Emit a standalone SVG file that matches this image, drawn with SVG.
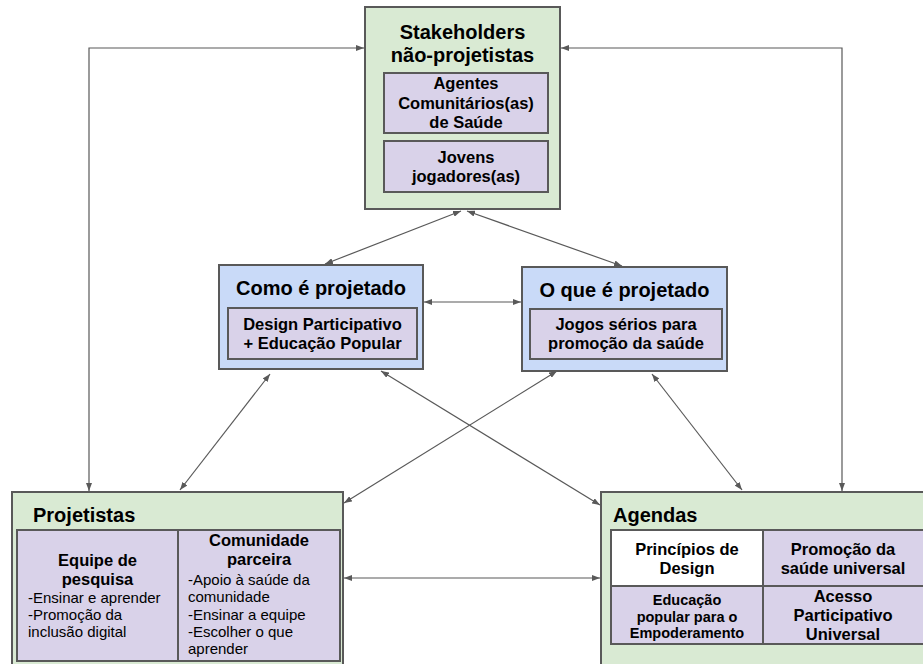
<svg xmlns="http://www.w3.org/2000/svg" width="923" height="664" viewBox="0 0 923 664">
<defs>
<marker id="ah" viewBox="0 0 8 6" refX="8" refY="3" markerWidth="8" markerHeight="6" markerUnits="userSpaceOnUse" orient="auto-start-reverse">
<path d="M0,0 L8,3 L0,6 z" fill="#595959"/>
</marker>
<style>
.g{fill:#d9ead3;stroke:#595959;stroke-width:2}
.b{fill:#c9daf8;stroke:#595959;stroke-width:2}
.p{fill:#d9d2e9;stroke:#595959;stroke-width:2}
.w{fill:#ffffff;stroke:#595959;stroke-width:2}
text{font-family:"Liberation Sans",Arial,sans-serif;fill:#000}
.t{font-size:20px;font-weight:bold}
.s{font-size:16.5px;font-weight:bold;text-anchor:middle}
.s2{font-size:14.5px;font-weight:bold;text-anchor:middle}
.n{font-size:15px}
.c{text-anchor:middle}
.ln{fill:none;stroke:#595959;stroke-width:1.2;marker-start:url(#ah);marker-end:url(#ah)}
</style>
</defs>
<g id="connectors">
<polyline class="ln" points="89,491 89,48 364,48"/>
<polyline class="ln" points="842,491 842,48 561,48"/>
<line class="ln" x1="461" y1="211" x2="325" y2="264"/>
<line class="ln" x1="467" y1="211" x2="622" y2="266"/>
<line class="ln" x1="424" y1="302" x2="521" y2="302"/>
<line class="ln" x1="270" y1="374" x2="180" y2="490"/>
<line class="ln" x1="381" y1="371" x2="600" y2="505"/>
<line class="ln" x1="557" y1="371" x2="344" y2="503"/>
<line class="ln" x1="652" y1="374" x2="742" y2="490"/>
<line class="ln" x1="344" y1="578" x2="600" y2="578"/>
</g>
<g id="stakeholders">
<rect class="g" x="365" y="7" width="195" height="202"/>
<text class="t c" x="462.5" y="39">Stakeholders</text>
<text class="t c" x="462.5" y="62">não-projetistas</text>
<rect class="p" x="384" y="73" width="164" height="60"/>
<text class="s" x="466" y="89">Agentes</text>
<text class="s" x="466" y="108.5">Comunitários(as)</text>
<text class="s" x="466" y="128">de Saúde</text>
<rect class="p" x="384" y="141" width="164" height="51"/>
<text class="s" x="466" y="163">Jovens</text>
<text class="s" x="466" y="182">jogadores(as)</text>
</g>
<g id="como">
<rect class="b" x="219" y="265" width="204" height="104"/>
<text class="t c" x="321" y="295">Como é projetado</text>
<rect class="p" x="228" y="308" width="189" height="51"/>
<text class="s" x="322.5" y="330">Design Participativo</text>
<text class="s" x="322.5" y="349">+ Educação Popular</text>
</g>
<g id="oque">
<rect class="b" x="522" y="267" width="205" height="104"/>
<text class="t c" x="624.5" y="297">O que é projetado</text>
<rect class="p" x="530" y="309" width="192" height="50"/>
<text class="s" x="626" y="330">Jogos sérios para</text>
<text class="s" x="626" y="349">promoção da saúde</text>
</g>
<g id="projetistas">
<rect class="g" x="12" y="492" width="331" height="190"/>
<text class="t" x="33" y="522">Projetistas</text>
<rect class="p" x="17" y="530" width="161" height="131"/>
<rect class="p" x="178" y="530" width="162" height="131"/>
<text class="s" x="97.5" y="566">Equipe de</text>
<text class="s" x="97.5" y="585">pesquisa</text>
<text class="n" x="28" y="603">-Ensinar e aprender</text>
<text class="n" x="28" y="620">-Promoção da</text>
<text class="n" x="28" y="637">inclusão digital</text>
<text class="s" x="259" y="546">Comunidade</text>
<text class="s" x="259" y="565">parceira</text>
<text class="n" x="188" y="585">-Apoio à saúde da</text>
<text class="n" x="188" y="602">comunidade</text>
<text class="n" x="188" y="620">-Ensinar a equipe</text>
<text class="n" x="188" y="637">-Escolher o que</text>
<text class="n" x="188" y="654">aprender</text>
</g>
<g id="agendas">
<rect class="g" x="601" y="492" width="340" height="190"/>
<text class="t" x="613" y="522">Agendas</text>
<rect class="w" x="611" y="530" width="152" height="56"/>
<rect class="p" x="763" y="530" width="162" height="56"/>
<rect class="p" x="611" y="586" width="152" height="58"/>
<rect class="p" x="763" y="586" width="162" height="58"/>
<text class="s" x="687" y="555">Princípios de</text>
<text class="s" x="687" y="574">Design</text>
<text class="s" x="843" y="555">Promoção da</text>
<text class="s" x="843" y="574">saúde universal</text>
<text class="s2" x="687" y="605">Educação</text>
<text class="s2" x="687" y="622">popular para o</text>
<text class="s2" x="687" y="638">Empoderamento</text>
<text class="s" x="843" y="602">Acesso</text>
<text class="s" x="843" y="621">Participativo</text>
<text class="s" x="843" y="640">Universal</text>
</g>
</svg>
